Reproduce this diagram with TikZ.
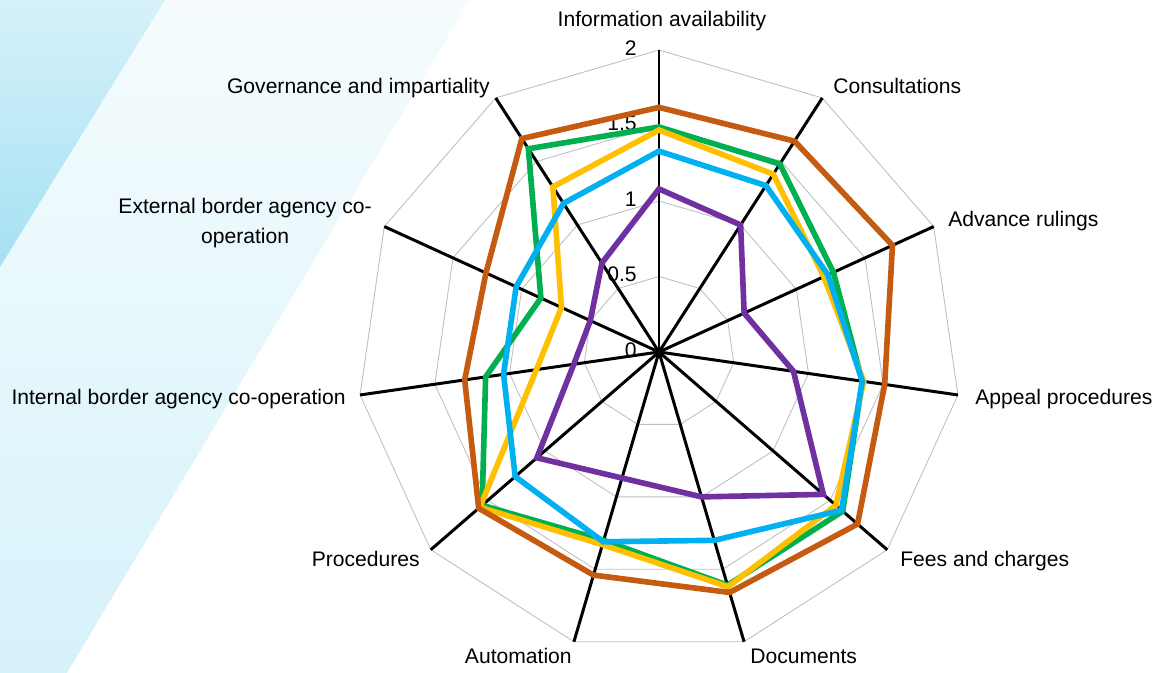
\documentclass[tikz,border=0pt]{standalone}
\usepackage{fontspec}
\setmainfont{Liberation Sans}
\usetikzlibrary{calc}
\definecolor{orangeline}{RGB}{197,90,17}
\definecolor{greenline}{RGB}{0,176,80}
\definecolor{yellowline}{RGB}{255,192,0}
\definecolor{blueline}{RGB}{0,176,240}
\definecolor{purpleline}{RGB}{112,48,160}
\definecolor{bgdark}{RGB}{165,224,242}
\definecolor{bgmid}{RGB}{214,242,250}
\definecolor{bglight}{RGB}{246,252,254}
\def\u{3.02}

\begin{document}
\begin{tikzpicture}[axis/.style={line width=1.7pt,black},
    grid/.style={gray!50,line width=0.5pt},
    series/.style={line width=3.2pt},
    lbl/.style={font=\fontsize{12}{17}\selectfont,inner sep=0pt,
      text height=8.6pt,text depth=2.5pt},
    tick/.style={lbl,anchor=east}]

  \useasboundingbox (-13.18,-6.42) rectangle (10.02,7.04);
  % background bands
  \shade[top color=bglight,bottom color=bgmid]
    (-13.18,1.70) -- (-9.88,7.04) -- (-3.78,7.04) -- (-11.84,-6.42) -- (-13.18,-6.42) -- cycle;
  \shade[top color=bgmid,bottom color=bgdark]
    (-13.18,7.04) -- (-9.88,7.04) -- (-13.18,1.70) -- cycle;

  \coordinate (o) at (0,0);
  % grid
  \foreach \r in {0.5,1,1.5,2}
    \draw[grid] (90:\r*\u) \foreach \k in {1,...,10} {-- (90-\k*360/11:\r*\u)} -- cycle;
  % axes
  \foreach \k in {0,...,10} {
    \coordinate (a\k) at (90-\k*360/11:2*\u);
    \draw[axis] (o) -- (a\k);
  }
  % scale
  \foreach \t [count=\n] in {0,0.5,1,1.5,2}
    \node[tick] (t\n) at (-0.44,\t*\u) {\t};

  % data
  \draw[series,greenline] (90:1.49*\u) \foreach \v [count=\k] in
    {1.48,1.27,1.36,1.61,1.61,1.30,1.55,1.16,0.86,1.60} {-- (90-\k*360/11:\v*\u)} -- cycle;
  \draw[series,yellowline] (90:1.47*\u) \foreach \v [count=\k] in
    {1.40,1.20,1.37,1.55,1.62,1.33,1.57,0.82,0.71,1.30} {-- (90-\k*360/11:\v*\u)} -- cycle;
  \draw[series,blueline] (90:1.33*\u) \foreach \v [count=\k] in
    {1.31,1.23,1.36,1.60,1.30,1.31,1.26,1.04,1.04,1.17} {-- (90-\k*360/11:\v*\u)} -- cycle;
  \draw[series,purpleline] (90:1.08*\u) \foreach \v [count=\k] in
    {1.00,0.62,0.90,1.44,1.00,0.87,1.07,0.57,0.50,0.70} {-- (90-\k*360/11:\v*\u)} -- cycle;
  \draw[series,orangeline] (90:1.62*\u) \foreach \v [count=\k] in
    {1.66,1.70,1.51,1.74,1.66,1.54,1.58,1.30,1.26,1.68} {-- (90-\k*360/11:\v*\u)} -- cycle;

  % category labels
  \node[lbl] (info) at (0.06,6.62) {Information availability};
  \node[lbl,anchor=west] (cons) at (3.48,5.28) {Consultations};
  \node[lbl,anchor=west] (adv) at (5.78,2.62) {Advance rulings};
  \node[lbl,anchor=west] (app) at (6.32,-0.94) {Appeal procedures};
  \node[lbl,anchor=west] (fees) at (4.82,-4.18) {Fees and charges};
  \node[lbl,anchor=west] (docs) at (1.82,-6.12) {Documents};
  \node[lbl,anchor=east] (auto) at (-1.74,-6.12) {Automation};
  \node[lbl,anchor=east] (proc) at (-4.78,-4.18) {Procedures};
  \node[lbl,anchor=east] (int) at (-6.26,-0.94) {Internal border agency co-operation};
  \node[font=\fontsize{12}{17}\selectfont,inner sep=0pt,align=center,anchor=east]
    (ext) at (-5.74,2.58) {External border agency co-\\operation};
  \node[lbl,anchor=east] (gov) at (-3.38,5.28) {Governance and impartiality};
\end{tikzpicture}
\end{document}
